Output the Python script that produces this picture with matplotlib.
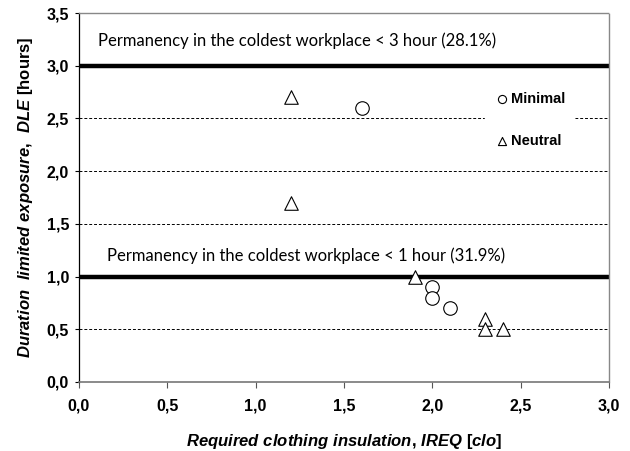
import matplotlib
matplotlib.use('Agg')
import matplotlib.pyplot as plt

# Minimal / Neutral scenarios
minimal_ireq = [1.6, 2.0, 2.0, 2.1]
minimal_dle = [2.6, 0.9, 0.8, 0.7]
neutral_ireq = [1.2, 1.2, 1.9, 2.3, 2.3, 2.4]
neutral_dle = [2.7, 1.7, 1.0, 0.6, 0.5, 0.5]

grid_levels = [0.5, 1.5, 2.0, 2.5]
limit_levels = [1.0, 3.0]
limit_labels = ['Permanency in the coldest workplace < 1 hour (31.9%)',
                'Permanency in the coldest workplace < 3 hour (28.1%)']
limit_label_pos = [(0.16, 1.20), (0.11, 3.24)]

xticks = [0.0, 0.5, 1.0, 1.5, 2.0, 2.5, 3.0]
yticks = [0.0, 0.5, 1.0, 1.5, 2.0, 2.5, 3.0, 3.5]

plt.rcParams['font.family'] = 'Liberation Sans'
plt.rcParams['mathtext.fontset'] = 'custom'
plt.rcParams['mathtext.rm'] = 'Liberation Sans:bold'
plt.rcParams['mathtext.it'] = 'Liberation Sans:bold:italic'
plt.rcParams['mathtext.bf'] = 'Liberation Sans:bold'

fig = plt.figure(figsize=(6.3, 4.51), dpi=100)
ax = fig.add_axes([0.125, 0.153, 0.842, 0.818])

for y in grid_levels:
    ax.axhline(y, color='black', lw=0.7, ls=(0, (3, 2)), zorder=1)
for y in limit_levels:
    ax.axhline(y, color='black', lw=3.2, zorder=2)

for (tx, ty), lab in zip(limit_label_pos, limit_labels):
    ax.text(tx, ty, lab, fontsize=12, family='Lato', va='center', ha='left')

ax.scatter(minimal_ireq, minimal_dle, s=95, marker='o', facecolors='white',
           edgecolors='black', linewidths=0.8, zorder=4, label='Minimal')
ax.scatter(neutral_ireq, neutral_dle, s=95, marker='^', facecolors='white',
           edgecolors='black', linewidths=0.8, zorder=4, label='Neutral')

leg = ax.legend(loc='upper left', bbox_to_anchor=(0.752, 0.83), frameon=True,
                fancybox=False, edgecolor='white', facecolor='white', framealpha=1,
                markerscale=0.6, labelspacing=1.9, handletextpad=0.0,
                handlelength=1.2, borderpad=0.6, prop={'weight': 'bold', 'size': 10.5})
leg.set_zorder(3)

ax.set_xlim(0, 3.0)
ax.set_ylim(0, 3.5)
ax.set_xticks(xticks)
ax.set_yticks(yticks)
ax.set_xticklabels([f'{v:.1f}'.replace('.', ',') for v in xticks], fontweight='bold', fontsize=11.5)
ax.set_yticklabels([f'{v:.1f}'.replace('.', ',') for v in yticks], fontweight='bold', fontsize=11.5)
ax.tick_params(axis='x', direction='out', length=4, width=0.8, color='#555555', pad=8)
ax.tick_params(axis='y', direction='out', length=3, width=0.8, pad=4)

ax.spines['left'].set_color('black')
ax.spines['left'].set_linewidth(0.9)
ax.spines['bottom'].set_color('#777777')
ax.spines['bottom'].set_linewidth(1.2)
for s in ['top', 'right']:
    ax.spines[s].set_color('#888888')
    ax.spines[s].set_linestyle((0, (1, 1)))
    ax.spines[s].set_linewidth(1.0)

ax.set_xlabel(r'$\mathit{Required\ clothing\ insulation{,}\ IREQ}\ \mathrm{[}\mathit{clo}\mathrm{]}$',
              fontsize=12, labelpad=13)
ax.set_ylabel(r'$\mathit{Duration\ \ limited\ exposure{,}\ \ DLE}\ \mathrm{[hours]}$',
              fontsize=12, labelpad=8)

fig.savefig('out.png', dpi=100)
